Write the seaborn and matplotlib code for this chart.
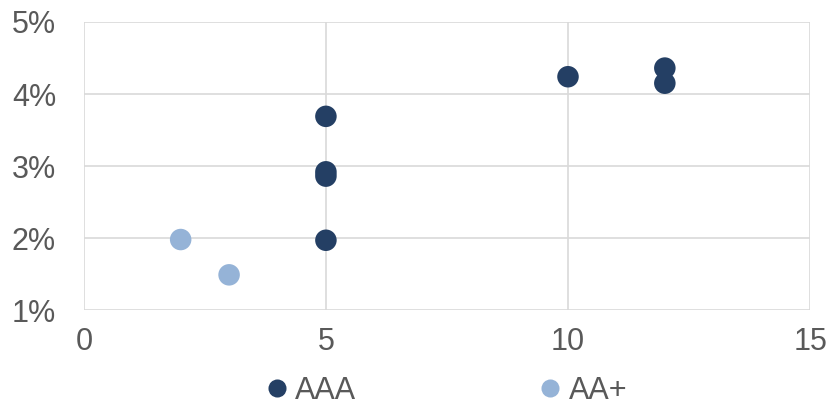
import matplotlib
matplotlib.use("Agg")
import matplotlib.pyplot as plt
import seaborn as sns
import pandas as pd

# values
aaa_x = [5, 5, 5, 5, 10, 12, 12]
aaa_y = [3.69, 2.92, 2.86, 1.97, 4.24, 4.36, 4.15]
aap_x = [2, 3]
aap_y = [1.98, 1.49]

df = pd.DataFrame({
    "x": aaa_x + aap_x,
    "y": aaa_y + aap_y,
    "rating": ["AAA"] * len(aaa_x) + ["AA+"] * len(aap_x),
})

sns.set_style("white")
plt.rcParams["font.family"] = ["Liberation Sans", "DejaVu Sans"]

fig = plt.figure(figsize=(8.3, 4.07), dpi=100)
ax = fig.add_axes([0.101, 0.238, 0.875, 0.708])

sns.scatterplot(data=df, x="x", y="y", hue="rating",
                palette={"AAA": "#243F64", "AA+": "#95B3D7"},
                s=240, edgecolor="none", ax=ax, zorder=3, legend=False)

ax.set_xlim(0, 15)
ax.set_ylim(1, 5)
ax.set_xticks([0, 5, 10, 15])
ax.set_yticks([1, 2, 3, 4, 5])
ax.set_yticklabels([f"{v}%" for v in [1, 2, 3, 4, 5]])
ax.grid(True, color="#D9D9D9", linewidth=1.2)
for sp in ax.spines.values():
    sp.set_visible(False)
ax.tick_params(length=0, labelsize=22, colors="#595959")
ax.tick_params(axis="y", pad=20)
ax.tick_params(axis="x", pad=12)
ax.set_xlabel("")
ax.set_ylabel("")

# legend below the plot
handles = [plt.Line2D([], [], marker="o", linestyle="", markersize=13,
                      markerfacecolor=c, markeredgecolor="none")
           for c in ["#243F64", "#95B3D7"]]
fig.legend(handles, ["AAA", "AA+"], loc="center", ncol=2,
           bbox_to_anchor=(0.538, 0.04), frameon=False, fontsize=22,
           handlelength=0.7, handletextpad=0.25, columnspacing=6.0,
           labelcolor="#595959", borderpad=0)

fig.savefig("out.png", dpi=100)
